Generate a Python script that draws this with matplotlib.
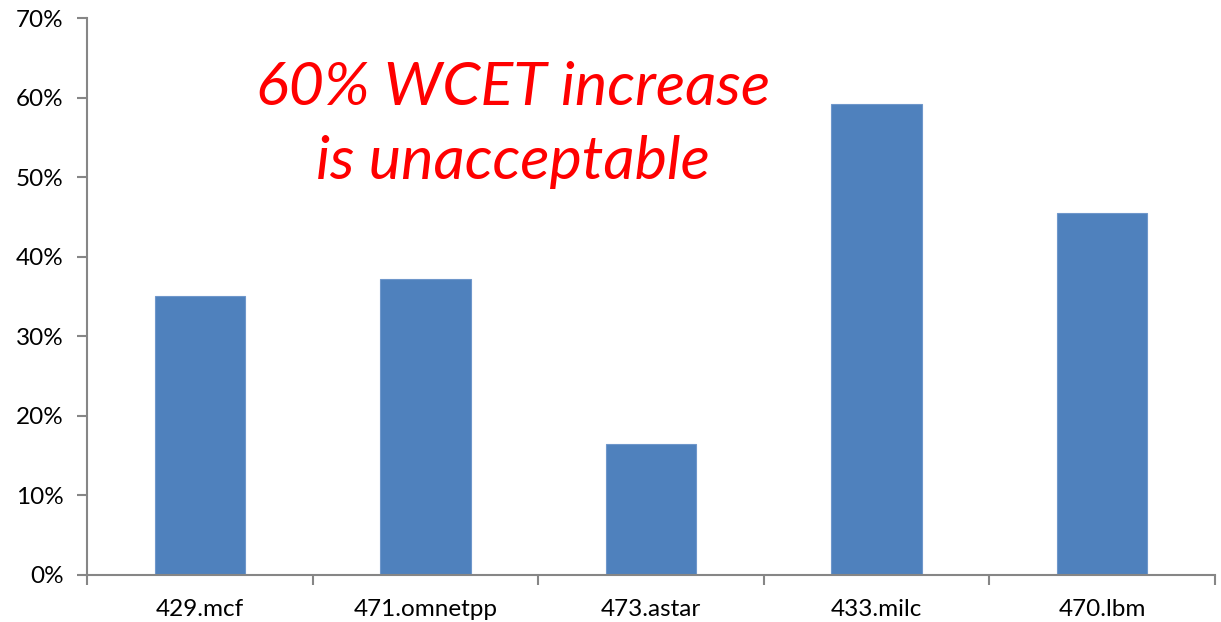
import matplotlib.pyplot as plt
from matplotlib.ticker import PercentFormatter, FixedLocator
import numpy as np

plt.rcParams['font.family'] = ['Lato', 'DejaVu Sans']

benchmarks = ["429.mcf", "471.omnetpp", "473.astar", "433.milc", "470.lbm"]
wcet_increase = [35.1, 37.2, 16.4, 59.2, 45.5]

bar_color = "#4F81BD"
axis_color = "#868686"

fig = plt.figure(figsize=(12.21, 6.22), dpi=100)
ax = fig.add_axes([0.0713, 0.0756, 0.9237, 0.8954])

x = np.arange(len(benchmarks))
ax.bar(x, wcet_increase, width=0.4, color=bar_color, edgecolor="#6F97CB", linewidth=0.8)

ax.set_xlim(-0.5, len(benchmarks) - 0.5)
ax.set_ylim(0, 70)
ax.set_yticks(np.arange(0, 71, 10))
ax.yaxis.set_major_formatter(PercentFormatter(decimals=0))

# category labels in the middle, tick marks on the category boundaries
ax.set_xticks(x)
ax.set_xticklabels(benchmarks)
ax.tick_params(axis="x", which="major", length=0, pad=17, labelsize=17.5)
ax.xaxis.set_minor_locator(FixedLocator(np.arange(-0.5, len(benchmarks), 1.0)))
ax.tick_params(axis="x", which="minor", length=7, width=1.5, color=axis_color, direction="out")
ax.tick_params(axis="y", length=7, width=1.5, color=axis_color, direction="out", pad=10, labelsize=17.5)

for side in ["top", "right"]:
    ax.spines[side].set_visible(False)
for side in ["left", "bottom"]:
    ax.spines[side].set_color(axis_color)
    ax.spines[side].set_linewidth(1.5)

ax.text(1.39, 56.6, "60% WCET increase\nis unacceptable", color="red", fontsize=44,
        style="italic", ha="center", va="center", linespacing=1.45)

fig.savefig("out.png", dpi=100)
